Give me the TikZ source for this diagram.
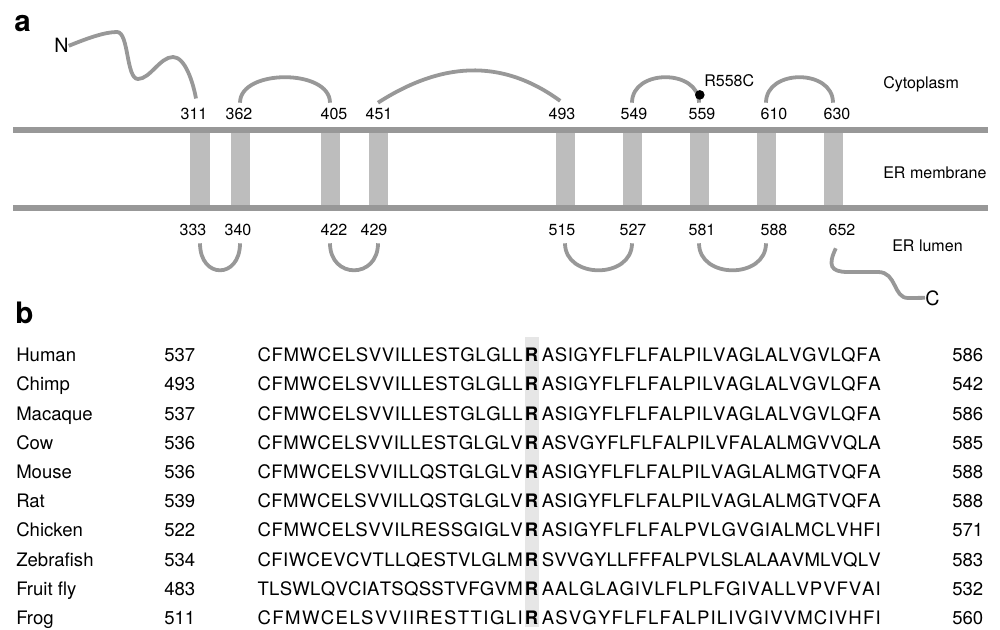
\documentclass[tikz,border=0pt]{standalone}
\usepackage{fontspec}
\setmainfont{TeX Gyre Heros}
\usepackage{xcolor}
\usetikzlibrary{positioning}

\definecolor{linegray}{HTML}{989898}
\definecolor{helixgray}{HTML}{BDBDBD}
\definecolor{markgray}{HTML}{E6E6E6}

% spread a sequence evenly over a fixed width
\ExplSyntaxOn
\NewDocumentCommand \seqbox { m m }
  { \makebox[#1][s]{ \tl_map_inline:nn {#2} { ##1 \hfil } \unskip } }
\ExplSyntaxOff
\newcommand\pre[1]{\seqbox{6.625cm}{#1}}
\newcommand\post[1]{\seqbox{8.47cm}{#1}}

\begin{document}
\begin{tikzpicture}[x=0.025cm, y=-0.025cm,
  panel/.style={font=\fontsize{21}{21}\selectfont\bfseries, inner sep=0pt, anchor=base west},
  helix/.style={fill=helixgray, minimum width=0.475cm, minimum height=1.95cm, inner sep=0pt},
  membrane/.style={draw=linegray, line width=3.6pt},
  chain/.style={draw=linegray, line width=2.7pt},
  resnum/.style={font=\fontsize{11.4}{12}\selectfont, inner sep=0pt, anchor=base},
  region/.style={font=\fontsize{11.4}{12}\selectfont, inner sep=0pt, anchor=base west},
  terminus/.style={font=\fontsize{14}{14}\selectfont, inner sep=0pt, anchor=base west},
  mutdot/.style={circle, fill=black, minimum size=0.24cm, inner sep=0pt},
  species/.style={font=\fontsize{13.2}{14}\selectfont, inner sep=0pt, anchor=base west},
  seqpre/.style={font=\fontsize{13.2}{14}\selectfont, inner sep=0pt, anchor=base east},
  seqarg/.style={font=\fontsize{13.2}{14}\selectfont\bfseries, inner sep=0pt, anchor=base},
  seqpost/.style={font=\fontsize{13.2}{14}\selectfont, inner sep=0pt, anchor=base west}
]
\useasboundingbox (0,0) rectangle (1000,630);

% panel a: topology in the ER membrane
\node[panel] (pa) at (14,32) {a};

\node[helix] (h1) at (200,169) {};
\node[helix] (h2) at (240,169) {};
\node[helix] (h3) at (330,169) {};
\node[helix] (h4) at (378,169) {};
\node[helix] (h5) at (565,169) {};
\node[helix] (h6) at (632,169) {};
\node[helix] (h7) at (699,169) {};
\node[helix] (h8) at (766,169) {};
\node[helix] (h9) at (833,169) {};

\draw[membrane] (13,130) -- (988,130);
\draw[membrane] (13,208) -- (988,208);

\node[resnum] (t311) at (194,120) {311};
\node[resnum] (t362) at (239,120) {362};
\node[resnum] (t405) at (334,120) {405};
\node[resnum] (t451) at (379,120) {451};
\node[resnum] (t493) at (562,120) {493};
\node[resnum] (t549) at (634,120) {549};
\node[resnum] (t559) at (702,120) {559};
\node[resnum] (t610) at (774,120) {610};
\node[resnum] (t630) at (837,120) {630};

\node[resnum] (b333) at (193,235) {333};
\node[resnum] (b340) at (238,235) {340};
\node[resnum] (b422) at (334,235) {422};
\node[resnum] (b429) at (374,235) {429};
\node[resnum] (b515) at (562,235) {515};
\node[resnum] (b527) at (633,235) {527};
\node[resnum] (b581) at (702,235) {581};
\node[resnum] (b588) at (774,235) {588};
\node[resnum] (b652) at (842,235) {652};

\node[region] (cyto) at (883,89) {Cytoplasm};
\node[region] (erm) at (883,179) {ER membrane};
\node[region] (erl) at (892,251) {ER lumen};

\node[terminus] (nterm) at (54,53) {N};
\node[terminus] (cterm) at (925,305) {C};

% cytoplasmic loops
\draw[chain] (nterm.east) .. controls (88,38) and (105,32) .. (117,32)
  .. controls (129,32) and (126,79) .. (138,79)
  .. controls (150,79) and (160,57) .. (173,57)
  .. controls (185,57) and (193,82) .. ([xshift=-0.1cm,yshift=0.78cm]h1.north);
\draw[chain] ([yshift=0.675cm]h2.north) .. controls +(0,0.85cm) and +(0,0.85cm) .. ([yshift=0.675cm]h3.north);
\draw[chain] ([yshift=0.675cm]h4.north) .. controls (440,63) and (500,57) .. ([xshift=-0.12cm,yshift=0.72cm]h5.north);
\draw[chain] ([yshift=0.675cm]h6.north) .. controls +(0,0.85cm) and +(0,0.85cm) .. ([yshift=0.675cm]h7.north);
\draw[chain] ([yshift=0.675cm]h8.north) .. controls +(0,0.85cm) and +(0,0.85cm) .. ([yshift=0.675cm]h9.north);

\node[mutdot] (r558) at ([xshift=0.02cm,yshift=0.87cm]h7.north) {};
\node[region] (r558c) at (704,87) {R558C};

% luminal loops
\draw[chain] ([yshift=-0.875cm]h1.south) .. controls +(0,-0.9cm) and +(0,-0.9cm) .. ([yshift=-0.875cm]h2.south);
\draw[chain] ([yshift=-0.875cm]h3.south) .. controls +(0,-0.9cm) and +(0,-0.9cm) .. ([yshift=-0.875cm]h4.south);
\draw[chain] ([yshift=-0.875cm]h5.south) .. controls +(0,-0.9cm) and +(0,-0.9cm) .. ([yshift=-0.875cm]h6.south);
\draw[chain] ([yshift=-0.875cm]h7.south) .. controls +(0,-0.9cm) and +(0,-0.9cm) .. ([yshift=-0.875cm]h8.south);
\draw[chain] ([xshift=0.07cm,yshift=-1.0cm]h9.south) .. controls (828,265) and (830,272) .. (848,272)
  -- (878,272) .. controls (897,272) and (893,298) .. (908,298) -- (cterm.west);

% panel b: alignment around the arginine
\node[panel] (pb) at (15,323) {b};
\fill[markgray] (524.5,337) rectangle (538.5,627);

\node[species] (human) at (16,361.7) {Human};
\node[species] (human-start) at (164,361.7) {537};
\node[seqpre] (human-pre) at (523,361.7) {\pre{CFMWCELSVVILLESTGLGLL}};
\node[seqarg] (human-arg) at (531.5,361.7) {R};
\node[seqpost] (human-post) at (541.5,361.7) {\post{ASIGYFLFLFALPILVAGLALVGVLQFA}};
\node[species] (human-end) at (952,361.7) {586};

\node[species] (chimp) at (16,390.9) {Chimp};
\node[species] (chimp-start) at (164,390.9) {493};
\node[seqpre] (chimp-pre) at (523,390.9) {\pre{CFMWCELSVVILLESTGLGLL}};
\node[seqarg] (chimp-arg) at (531.5,390.9) {R};
\node[seqpost] (chimp-post) at (541.5,390.9) {\post{ASIGYFLFLFALPILVAGLALVGVLQFA}};
\node[species] (chimp-end) at (952,390.9) {542};

\node[species] (macaque) at (16,420.1) {Macaque};
\node[species] (macaque-start) at (164,420.1) {537};
\node[seqpre] (macaque-pre) at (523,420.1) {\pre{CFMWCELSVVILLESTGLGLL}};
\node[seqarg] (macaque-arg) at (531.5,420.1) {R};
\node[seqpost] (macaque-post) at (541.5,420.1) {\post{ASIGYFLFLFALPILVAGLALVGVLQFA}};
\node[species] (macaque-end) at (952,420.1) {586};

\node[species] (cow) at (16,449.3) {Cow};
\node[species] (cow-start) at (164,449.3) {536};
\node[seqpre] (cow-pre) at (523,449.3) {\pre{CFMWCELSVVILLESTGLGLV}};
\node[seqarg] (cow-arg) at (531.5,449.3) {R};
\node[seqpost] (cow-post) at (541.5,449.3) {\post{ASVGYFLFLFALPILVFALALMGVVQLA}};
\node[species] (cow-end) at (952,449.3) {585};

\node[species] (mouse) at (16,478.5) {Mouse};
\node[species] (mouse-start) at (164,478.5) {536};
\node[seqpre] (mouse-pre) at (523,478.5) {\pre{CFMWCELSVVILLQSTGLGLV}};
\node[seqarg] (mouse-arg) at (531.5,478.5) {R};
\node[seqpost] (mouse-post) at (541.5,478.5) {\post{ASIGYFLFLFALPILVAGLALMGTVQFA}};
\node[species] (mouse-end) at (952,478.5) {588};

\node[species] (rat) at (16,507.7) {Rat};
\node[species] (rat-start) at (164,507.7) {539};
\node[seqpre] (rat-pre) at (523,507.7) {\pre{CFMWCELSVVILLQSTGLGLV}};
\node[seqarg] (rat-arg) at (531.5,507.7) {R};
\node[seqpost] (rat-post) at (541.5,507.7) {\post{ASIGYFLFLFALPILVAGLALMGTVQFA}};
\node[species] (rat-end) at (952,507.7) {588};

\node[species] (chicken) at (16,536.9) {Chicken};
\node[species] (chicken-start) at (164,536.9) {522};
\node[seqpre] (chicken-pre) at (523,536.9) {\pre{CFMWCELSVVILRESSGIGLV}};
\node[seqarg] (chicken-arg) at (531.5,536.9) {R};
\node[seqpost] (chicken-post) at (541.5,536.9) {\post{ASIGYFLFLFALPVLGVGIALMCLVHFI}};
\node[species] (chicken-end) at (952,536.9) {571};

\node[species] (zebrafish) at (16,566.1) {Zebrafish};
\node[species] (zebrafish-start) at (164,566.1) {534};
\node[seqpre] (zebrafish-pre) at (523,566.1) {\pre{CFIWCEVCVTLLQESTVLGLM}};
\node[seqarg] (zebrafish-arg) at (531.5,566.1) {R};
\node[seqpost] (zebrafish-post) at (541.5,566.1) {\post{SVVGYLLFFFALPVLSLALAAVMLVQLV}};
\node[species] (zebrafish-end) at (952,566.1) {583};

\node[species] (fly) at (16,595.3) {Fruit fly};
\node[species] (fly-start) at (164,595.3) {483};
\node[seqpre] (fly-pre) at (523,595.3) {\pre{TLSWLQVCIATSQSSTVFGVM}};
\node[seqarg] (fly-arg) at (531.5,595.3) {R};
\node[seqpost] (fly-post) at (541.5,595.3) {\post{AALGLAGIVLFLPLFGIVALLVPVFVAI}};
\node[species] (fly-end) at (952,595.3) {532};

\node[species] (frog) at (16,624.5) {Frog};
\node[species] (frog-start) at (164,624.5) {511};
\node[seqpre] (frog-pre) at (523,624.5) {\pre{CFMWCELSVVIIRESTTIGLI}};
\node[seqarg] (frog-arg) at (531.5,624.5) {R};
\node[seqpost] (frog-post) at (541.5,624.5) {\post{ASVGYFLFLFALPILIVGIVVMCIVHFI}};
\node[species] (frog-end) at (952,624.5) {560};
\end{tikzpicture}
\end{document}
